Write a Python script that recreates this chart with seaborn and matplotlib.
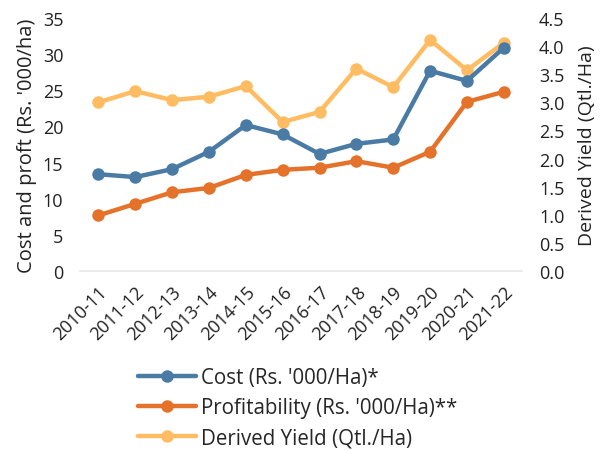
import seaborn as sns
import matplotlib.pyplot as plt
import pandas as pd

years = ['2010-11', '2011-12', '2012-13', '2013-14', '2014-15', '2015-16',
         '2016-17', '2017-18', '2018-19', '2019-20', '2020-21', '2021-22']
cost = [13.4, 13.0, 14.1, 16.5, 20.2, 18.9, 16.2, 17.6, 18.2, 27.7, 26.3, 30.9]
profit = [7.7, 9.3, 10.9, 11.5, 13.3, 14.0, 14.3, 15.2, 14.3, 16.5, 23.4, 24.8]
yield_ = [3.0, 3.2, 3.04, 3.1, 3.29, 2.65, 2.83, 3.6, 3.27, 4.11, 3.57, 4.06]

sns.set_style('white')
plt.rcParams['font.family'] = ['Open Sans', 'DejaVu Sans']

df = pd.DataFrame({'year': years, 'cost': cost, 'profit': profit, 'yield': yield_})
df['x'] = range(len(years))

blue = '#4A7BA5'
orange = '#E5722A'
yellow = '#FFBC62'

fig = plt.figure(figsize=(6.01, 4.52), dpi=100)
ax = fig.add_axes([0.133, 0.398, 0.736, 0.56])
ax2 = ax.twinx()

sns.lineplot(data=df, x='x', y='cost', ax=ax, color=blue, marker='o', lw=3.2,
             markersize=11, markeredgewidth=0, label="Cost (Rs. '000/Ha)*", legend=False, zorder=3)
sns.lineplot(data=df, x='x', y='profit', ax=ax, color=orange, marker='o', lw=3.2,
             markersize=11, markeredgewidth=0, label="Profitability (Rs. '000/Ha)**", legend=False, zorder=3)
sns.lineplot(data=df, x='x', y='yield', ax=ax2, color=yellow, marker='o', lw=3.2,
             markersize=11, markeredgewidth=0, label='Derived Yield (Qtl./Ha)', legend=False)

ax.set_zorder(ax2.get_zorder() + 1)
ax.patch.set_visible(False)

ax.set_xlim(-0.5, 11.5)
ax.set_ylim(0, 35)
ax2.set_ylim(0, 4.5)
ax.set_yticks(range(0, 36, 5))
ax2.set_yticks([i * 0.5 for i in range(10)])
ax2.set_yticklabels([f'{i * 0.5:.1f}' for i in range(10)])
ax.set_xticks(df['x'])
ax.set_xticklabels(years, rotation=45, ha='right', rotation_mode='anchor')

for a in (ax, ax2):
    for s in a.spines.values():
        s.set_visible(False)
    a.tick_params(length=0, labelsize=13, colors='#222222')
ax.spines['bottom'].set_visible(True)
ax.spines['bottom'].set_color('#E6E6E6')
ax.spines['bottom'].set_linewidth(1.2)
ax.tick_params(axis='x', pad=8)
ax.tick_params(axis='y', pad=12)
ax2.tick_params(axis='y', pad=12)

ax.set_xlabel('')
ax.set_ylabel("Cost and proft (Rs. '000/ha)", fontsize=14.5, color='#222222', labelpad=4)
ax2.set_ylabel('Derived Yield (Qtl./Ha)', fontsize=14, color='#222222', labelpad=10)

h1, l1 = ax.get_legend_handles_labels()
h2, l2 = ax2.get_legend_handles_labels()
for h in h1 + h2:
    h.set_markersize(9)
fig.legend(h1 + h2, l1 + l2, loc='upper left', bbox_to_anchor=(0.23, 0.186),
           frameon=False, fontsize=14.8, handlelength=2.8, labelspacing=0.45,
           handletextpad=0.25, borderaxespad=0, borderpad=0)

fig.savefig('out.png', dpi=100)
